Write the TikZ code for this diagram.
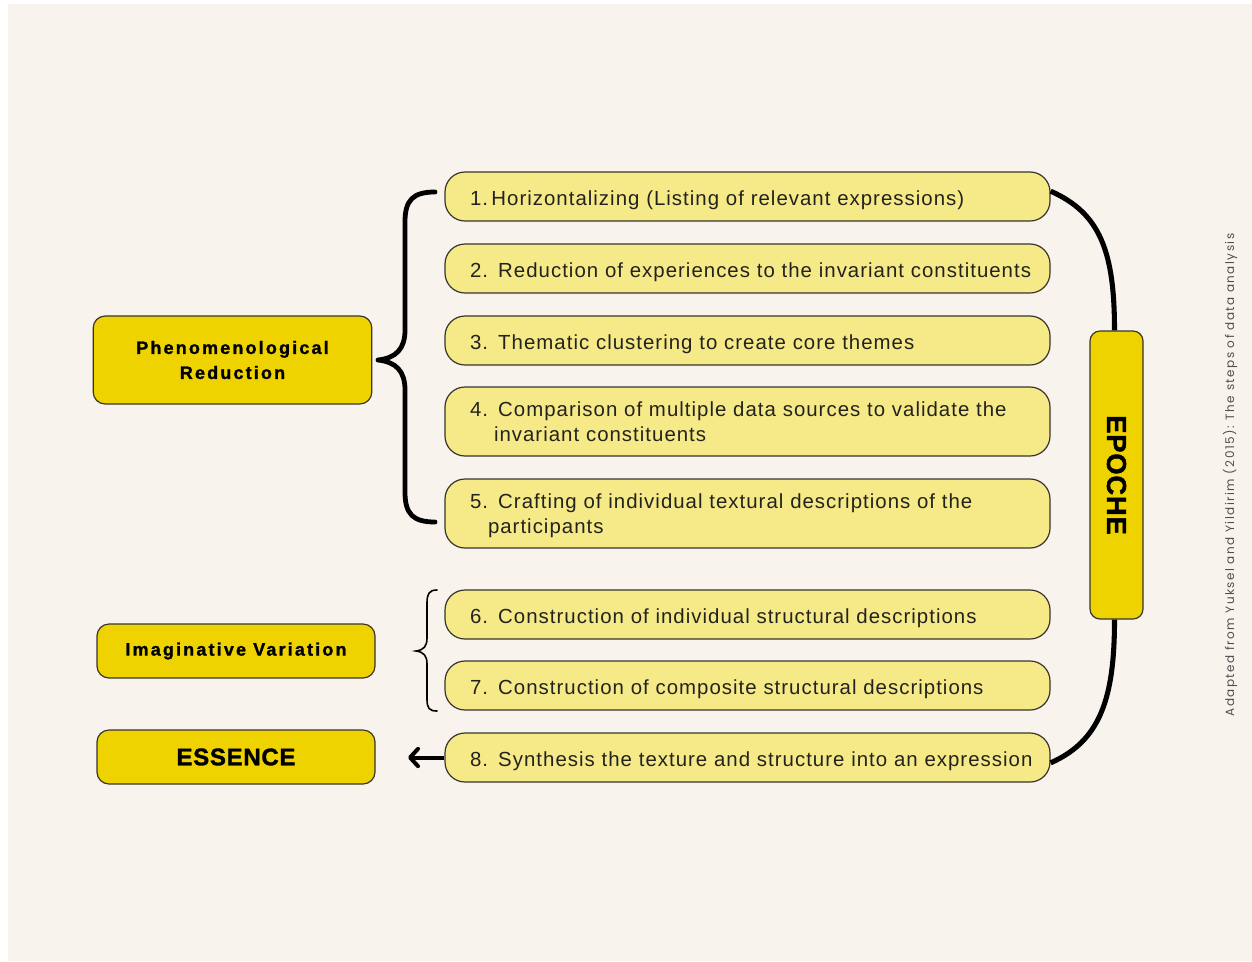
\documentclass[tikz,border=0pt]{standalone}
\usepackage{fontspec}
\setmainfont{Liberation Sans}
\newfontfamily\stepfont[LetterSpace=5]{Liberation Sans}
\newfontfamily\labelfont[LetterSpace=12, FakeBold=1.2]{Liberation Sans Bold}
\newfontfamily\bigfont[LetterSpace=3, FakeBold=1.4]{Liberation Sans Bold}
\newfontfamily\notefont[LetterSpace=12]{Poppins}
\usetikzlibrary{arrows.meta}

\definecolor{paper}{RGB}{248,244,237}
\definecolor{stepfill}{RGB}{246,233,135}
\definecolor{phasefill}{RGB}{239,211,0}
\definecolor{edge}{RGB}{55,52,45}
\definecolor{ink}{RGB}{35,35,30}
\definecolor{notegray}{RGB}{80,80,80}

\tikzset{
  stepbox/.style={draw=edge, line width=0.9pt, fill=stepfill, rounded corners=15pt,
    minimum width=453.75pt, minimum height=36.75pt, text width=416.25pt,
    inner xsep=18.75pt, inner ysep=0pt, align=left, text=ink,
    text height=13pt, text depth=0.2pt,
    font={\stepfont\fontsize{15.3pt}{18.75pt}\selectfont}},
  tallstep/.style={stepbox, minimum height=51.75pt, text height=13pt, text depth=19.8pt},
  phasebox/.style={draw=edge, line width=0.9pt, fill=phasefill, rounded corners=9pt,
    minimum width=209pt, minimum height=40.5pt, inner sep=0pt, align=center, text=black,
    font={\labelfont\fontsize{13.5pt}{18.75pt}\selectfont}},
  bracket/.style={draw=black, line width=3.6pt, line cap=round, line join=round},
  thinbracket/.style={draw=black, line width=1.2pt, line cap=round},
  epocheline/.style={draw=black, line width=3.8pt},
  backarrow/.style={draw=black, line width=3pt,
    -{Straight Barb[length=6pt, width=13pt, line cap=round, line join=round]}},
}

\begin{document}
\begin{tikzpicture}[x=0.75pt, y=-0.75pt]
\useasboundingbox (0,0) rectangle (1252,961);
\fill[white] (0,0) rectangle (1252,961);
\fill[paper] (8,4) rectangle (1252,961);

% numbered steps
\node[stepbox]   (b1) at (747.5,196.5) {1.\,Horizontalizing (Listing of relevant expressions)};
\node[stepbox]   (b2) at (747.5,268.5) {\mbox{2. Reduction of experiences to the invariant constituents}};
\node[stepbox]   (b3) at (747.5,340.5) {3. Thematic clustering to create core themes};
\node[tallstep]  (b4) at (747.5,421.5) {4. Comparison of multiple data sources to validate the\\\hspace*{18pt}invariant constituents};
\node[tallstep]  (b5) at (747.5,513.5) {5. Crafting of individual textural descriptions of the\\\hspace*{13.5pt}participants};
\node[stepbox]   (b6) at (747.5,614.5) {6. Construction of individual structural descriptions};
\node[stepbox]   (b7) at (747.5,685.5) {7. Construction of composite structural descriptions};
\node[stepbox]   (b8) at (747.5,757.5) {\mbox{8. Synthesis the texture and structure into an expression}};

% phases
\node[phasebox, minimum height=66pt] (pr) at (232.5,360) {Phenomenological\\Reduction};
\node[phasebox, minimum width=208.5pt] (iv) at (236,651) {Imaginative Variation};
\node[phasebox, minimum width=208.5pt, font={\bigfont\fontsize{18pt}{20pt}\selectfont}] (es) at (236,757) {ESSENCE};

% epoche bar
\node[draw=edge, line width=0.9pt, fill=phasefill, rounded corners=7.5pt,
      minimum width=39.75pt, minimum height=216pt, inner sep=0pt] (ep) at (1116.5,475) {};
\node[rotate=-90, font={\bigfont\fontsize{20.5pt}{22pt}\selectfont}] (eptext) at (ep.center) {EPOCHE};

% arcs joining the first and last steps to the epoche bar
\draw[epocheline] ([yshift=4pt]b1.east) .. controls +(50,22) and +(0,-78) .. ([xshift=-1.5pt]ep.north);
\draw[epocheline] ([xshift=-1.5pt]ep.south) .. controls +(0,78) and +(50,-22) .. ([yshift=-4pt]b8.east);

% large brace for steps 1 to 5
\coordinate (brTop) at (435,192);
\coordinate (brTip) at (378,360);
\coordinate (brBot) at (435,522);
\draw[bracket] (brTop) .. controls (413,192) and (405,200) .. (405,222)
  -- (405,330) .. controls (405,349) and (396,358) .. (brTip)
  .. controls (396,362) and (405,371) .. (405,390)
  -- (405,492) .. controls (405,514) and (413,522) .. (brBot);

% small brace for steps 6 and 7
\coordinate (sbTop) at (437,590);
\coordinate (sbTip) at (416,651);
\coordinate (sbBot) at (437,711);
\draw[thinbracket] (sbTop) .. controls (429,590) and (427,594) .. (427,603)
  -- (427,638) .. controls (427,646) and (424,650) .. (sbTip)
  .. controls (424,652) and (427,656) .. (427,664)
  -- (427,699) .. controls (427,708) and (429,711) .. (sbBot);

% arrow towards the essence
\coordinate (arrowEnd) at (408,757.5);
\draw[backarrow] (b8.west) -- (arrowEnd);

% source note
\node[rotate=90, text=notegray, font={\notefont\fontsize{9pt}{10pt}\selectfont}] (src) at (1230,475)
  {Adapted from Yuksel and Yildirim (2015): The steps of data analysis};
\end{tikzpicture}
\end{document}
